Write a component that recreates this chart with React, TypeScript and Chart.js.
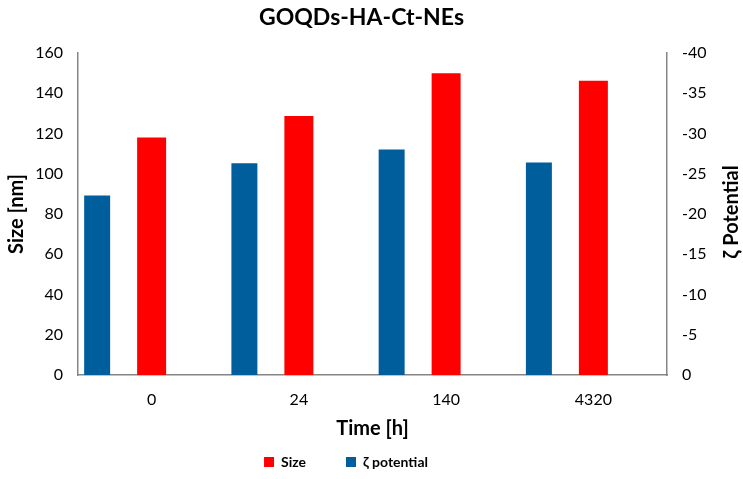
import React, { useEffect, useRef } from "react";
import { Chart, registerables } from "chart.js";

Chart.register(...registerables);

const categories = ["0", "24", "140", "4320"];
const sizeValues = [118, 128.7, 150, 146.2];
const zetaValues = [-22.3, -26.3, -28.0, -26.4];
const spacerValues = [null, null, null, null];
const chartTitle = "GOQDs-HA-Ct-NEs";
const xTitle = "Time [h]";
const yTitle = "Size [nm]";
const y1Title = "ζ Potential";
const sizeLabel = "Size";
const zetaLabel = "ζ potential";

const FONT = "Lato, 'Open Sans', sans-serif";
const AXIS = "#858585";

const textPlugin = {
  id: "extraText",
  afterDraw(chart: any) {
    const { ctx, chartArea } = chart;
    ctx.save();
    ctx.fillStyle = "#000";
    ctx.textAlign = "center";
    ctx.textBaseline = "middle";
    ctx.font = `bold 23px ${FONT}`;
    ctx.fillText(chartTitle, 361.5, 18);
    ctx.translate(732, (chartArea.top + chartArea.bottom) / 2 - 2);
    ctx.rotate(-Math.PI / 2);
    ctx.font = `bold 20px ${FONT}`;
    ctx.fillText(y1Title, 0, 0);
    ctx.restore();
  },
};

export default function App() {
  const ref = useRef<HTMLCanvasElement>(null);
  useEffect(() => {
    if (!ref.current) return;
    const chart = new Chart(ref.current, {
      type: "bar",
      data: {
        labels: categories,
        datasets: [
          {
            label: zetaLabel,
            data: zetaValues,
            yAxisID: "y1",
            backgroundColor: "#005e9c",
            categoryPercentage: 1.11,
            barPercentage: 0.477,
          },
          {
            label: sizeLabel,
            data: sizeValues,
            yAxisID: "y",
            backgroundColor: "#ff0000",
            categoryPercentage: 1.11,
            barPercentage: 0.532,
          },
          {
            label: "",
            data: spacerValues as any,
            yAxisID: "y",
            backgroundColor: "rgba(0,0,0,0)",
            categoryPercentage: 1.11,
            barPercentage: 0.5,
          },
        ],
      },
      options: {
        animation: false,
        responsive: false,
        maintainAspectRatio: false,
        layout: { padding: { top: 53, left: -21, right: 30, bottom: 0 } },
        plugins: {
          title: { display: false },
          tooltip: { enabled: false },
          legend: {
            position: "bottom",
            labels: {
              boxWidth: 10,
              boxHeight: 10,
              padding: 40,
              color: "#000",
              font: { family: FONT, size: 14, weight: "bold" },
              filter: (item: any) => item.datasetIndex !== 2,
              sort: (a: any, b: any) => b.datasetIndex - a.datasetIndex,
            },
          },
        },
        scales: {
          x: {
            grid: { display: false, drawTicks: false },
            border: { display: true, color: AXIS, width: 1.5 },
            ticks: { padding: 15, color: "#000", font: { family: FONT, size: 16 } },
            title: {
              display: true,
              text: xTitle,
              color: "#000",
              font: { family: FONT, size: 20, weight: "bold" },
              padding: { top: 0, bottom: -26 },
            },
            afterFit: (s: any) => {
              s.height = 40;
            },
          },
          y: {
            position: "left",
            min: 0,
            max: 160,
            grid: { display: false, drawTicks: false },
            border: { display: true, color: AXIS, width: 1.5 },
            ticks: { stepSize: 20, padding: 15, color: "#000", font: { family: FONT, size: 16 } },
            title: {
              display: true,
              text: yTitle,
              color: "#000",
              font: { family: FONT, size: 20, weight: "bold" },
              padding: { top: 26, bottom: 0 },
            },
            afterFit: (s: any) => {
              s.width = 99;
            },
          },
          y1: {
            position: "right",
            min: -40,
            max: 0,
            reverse: true,
            grid: { display: false, drawTicks: false },
            border: { display: true, color: AXIS, width: 1.5 },
            ticks: { stepSize: 5, padding: 15, color: "#000", font: { family: FONT, size: 16 } },
            afterFit: (s: any) => {
              s.width = 46;
            },
          },
        },
      },
      plugins: [textPlugin],
    });
    return () => chart.destroy();
  }, []);
  return (
    <div style={{ position: "absolute", left: 0, top: 0, width: 743, height: 479, background: "#fff" }}>
      <canvas ref={ref} width={743} height={479} style={{ width: 743, height: 479 }} />
    </div>
  );
}
